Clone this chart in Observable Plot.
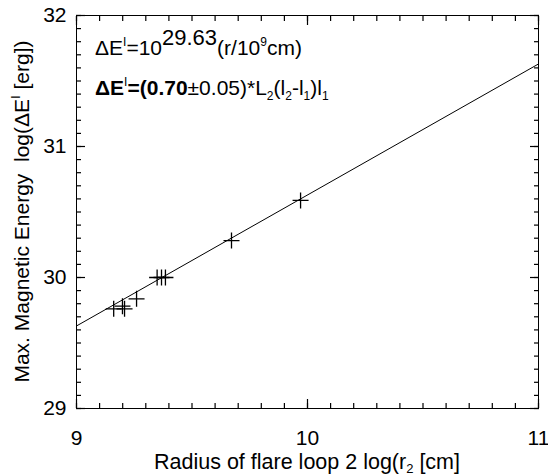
<!DOCTYPE html>
<html><head><meta charset="utf-8">
<script src="https://cdn.jsdelivr.net/npm/d3@7"></script>
<script src="https://cdn.jsdelivr.net/npm/@observablehq/plot@0.6"></script>
<style>body{margin:0;background:#fff} svg{font-family:"Liberation Sans",Arial,sans-serif}</style>
</head><body><div id="chart"></div>
<script>
// Data
const radiusLog = [9.161, 9.199, 9.208, 9.260, 9.349, 9.368, 9.385, 9.671, 9.970];
const energyLog = [29.761, 29.781, 29.761, 29.837, 30.000, 30.000, 30.000, 30.282, 30.588];
const xTicks = [9, 10, 11];
const yTicks = [29, 30, 31, 32];
const xDomain = [9, 11];
const yDomain = [29, 32];
const fitIntercept = 29.63; // log ΔE at r = 10^9 cm
const fitSlope = 1;
const fitX0 = 9;

const points = radiusLog.map((x, i) => ({x, y: energyLog[i]}));
const fitLine = xDomain.map(x => ({x, y: fitIntercept + fitSlope * (x - fitX0)}));
const xMinor = d3.range(0, 21).map(i => xDomain[0] + i * 0.1);
const yMinor = d3.range(0, 31).map(i => yDomain[0] + i * 0.1);

const W = 548, H = 476, mL = 76, mR = 10, mT = 15, mB = 68;
const minorLen = 5, majorLen = 9;

const cross = {
  draw(context, size) {
    const h = Math.sqrt(size / Math.PI);
    context.moveTo(-h, 0); context.lineTo(h, 0);
    context.moveTo(0, -h); context.lineTo(0, h);
  }
};
const fs = 21;
const font = '"Liberation Sans", Arial, Helvetica, sans-serif';
const blank = () => "";
const tk = {tickFormat: blank, label: null, stroke: "black", strokeWidth: 1.2, tickPadding: 0};

const plot = Plot.plot({
  width: W, height: H,
  marginLeft: mL, marginRight: mR, marginTop: mT, marginBottom: mB,
  x: {domain: xDomain, axis: null},
  y: {domain: yDomain, axis: null},
  style: {fontSize: fs + "px", fontFamily: font, color: "black"},
  marks: [
    Plot.frame({stroke: "black", strokeWidth: 1, fill: "none"}),
    // inward ticks on all four sides (axis ticks shifted inside the frame)
    Plot.axisX(xMinor, {anchor: "bottom", tickSize: minorLen, dy: -minorLen, ...tk}),
    Plot.axisX(xMinor, {anchor: "top", tickSize: minorLen, dy: minorLen, ...tk}),
    Plot.axisX(xTicks, {anchor: "bottom", tickSize: majorLen, dy: -majorLen, ...tk}),
    Plot.axisX(xTicks, {anchor: "top", tickSize: majorLen, dy: majorLen, ...tk}),
    Plot.axisY(yMinor, {anchor: "left", tickSize: minorLen, dx: minorLen, ...tk}),
    Plot.axisY(yMinor, {anchor: "right", tickSize: minorLen, dx: -minorLen, ...tk}),
    Plot.axisY(yTicks, {anchor: "left", tickSize: majorLen, dx: majorLen, ...tk}),
    Plot.axisY(yTicks, {anchor: "right", tickSize: majorLen, dx: -majorLen, ...tk}),
    // tick labels
    Plot.axisX(xTicks, {anchor: "bottom", tickSize: 0, tickPadding: 22, tickFormat: d3.format("d"), label: null, fontSize: fs}),
    Plot.axisY(yTicks, {anchor: "left", tickSize: 0, tickPadding: 10, tickFormat: d3.format("d"), label: null, fontSize: fs}),
    Plot.line(fitLine, {x: "x", y: "y", stroke: "black", strokeWidth: 1}),
    Plot.dot(points, {x: "x", y: "y", symbol: cross, r: 8, stroke: "black", strokeWidth: 1.3, fill: "none"})
  ]
});
document.getElementById("chart").append(plot);

const svg = d3.select(plot);
const sx = plot.scale("x"), sy = plot.scale("y");
function addText(x, y, size) {
  return svg.append("text").attr("x", x).attr("y", y).attr("text-anchor", "start")
    .attr("font-size", size).attr("font-family", font).attr("fill", "black");
}
function part(t, s, opts = {}) {
  const ts = t.append("tspan").attr("fill", "black").text(s);
  for (const k in opts) ts.attr(k, opts[k]);
  return ts;
}

// x-axis label
const xl = addText((sx.apply(xDomain[0]) + sx.apply(xDomain[1])) / 2, 469, 21.5).attr("text-anchor", "middle");
part(xl, "Radius of flare loop 2 log(r");
part(xl, "2", {"font-size": 13, dy: 4});
part(xl, " [cm]", {dy: -4});

// y-axis label
const ymid = (sy.apply(yDomain[0]) + sy.apply(yDomain[1])) / 2;
const yl = svg.append("text").attr("transform", `translate(29,${ymid}) rotate(-90)`)
  .attr("text-anchor", "middle").attr("font-size", fs).attr("font-family", font).attr("fill", "black");
part(yl, "Max. Magnetic Energy\u00a0\u00a0log(\u0394E");
part(yl, "I", {"font-size": 13, dy: -9});
part(yl, " [erg])", {dy: 9});

// annotations
const afs = 21;
const t1 = addText(95, 55, afs);
part(t1, "\u0394E");
part(t1, "I", {"font-size": 12, dy: -9});
part(t1, "=10", {dy: 9});
part(t1, fitIntercept.toFixed(2), {"font-size": 22, dy: -10});
part(t1, "(r/10", {dy: 10});
part(t1, "9", {"font-size": 12, dy: -9});
part(t1, "cm)", {dy: 9});

const t2 = addText(95, 95, afs);
part(t2, "\u0394E", {"font-weight": "bold"});
part(t2, "I", {"font-size": 12, dy: -9});
part(t2, "=(0.70", {"font-weight": "bold", dy: 9});
part(t2, "\u00b10.05)*L");
part(t2, "2", {"font-size": 12, dy: 5});
part(t2, "(l", {dy: -5});
part(t2, "2", {"font-size": 12, dy: 5});
part(t2, "-l", {dy: -5});
part(t2, "1", {"font-size": 12, dy: 5});
part(t2, ")l", {dy: -5});
part(t2, "1", {"font-size": 12, dy: 5});
</script>
</body></html>
